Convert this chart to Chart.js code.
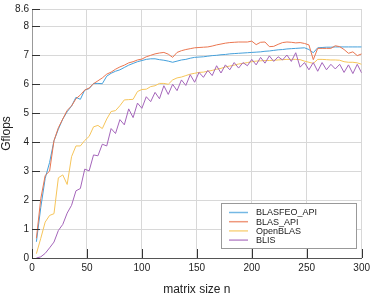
<!DOCTYPE html>
<html>
<head>
<meta charset="utf-8">
<script src="https://cdn.jsdelivr.net/npm/chart.js@4"></script>
<style>
  html, body { margin: 0; padding: 0; background: #fff; }
  canvas { display: block; }
</style>
</head>
<body>
<canvas id="graphique" width="374" height="295"></canvas>
<script>
// --- données ---
const tailles = [4, 8, 12, 16, 20, 24, 28, 32, 36, 40,
  44, 48, 52, 56, 60, 64, 68, 72, 76, 80,
  84, 88, 92, 96, 100, 104, 108, 112, 116, 120,
  124, 128, 132, 136, 140, 144, 148, 152, 156, 160,
  164, 168, 172, 176, 180, 184, 188, 192, 196, 200,
  204, 208, 212, 216, 220, 224, 228, 232, 236, 240,
  244, 248, 252, 256, 260, 264, 268, 272, 276, 280,
  284, 288, 292, 296, 300];

const blasfeoApi = [0.56, 1.75, 2.75, 3.3, 4.05, 4.45, 4.8, 5.05, 5.25, 5.55,
  5.48, 5.8, 5.85, 6.03, 6.03, 6.02, 6.28, 6.38, 6.45, 6.5,
  6.58, 6.66, 6.72, 6.78, 6.82, 6.86, 6.88, 6.88, 6.85, 6.83,
  6.8, 6.76, 6.8, 6.84, 6.86, 6.9, 6.93, 6.94, 6.95, 6.97,
  6.99, 7.0, 7.02, 7.03, 7.05, 7.06, 7.07, 7.08, 7.09, 7.1,
  7.11, 7.12, 7.14, 7.15, 7.17, 7.19, 7.2, 7.22, 7.23, 7.24,
  7.25, 7.26, 7.2, 7.09, 7.26, 7.27, 7.28, 7.28, 7.29, 7.29,
  7.29, 7.29, 7.29, 7.29, 7.29];

const blasApi = [0.68, 2.05, 2.85, 3.0, 4.05, 4.5, 4.8, 5.1, 5.25, 5.5,
  5.63, 5.8, 5.87, 6.02, 6.12, 6.22, 6.35, 6.42, 6.52, 6.6,
  6.66, 6.74, 6.78, 6.84, 6.87, 6.95, 7.0, 7.05, 7.08, 7.1,
  7.04, 6.93, 7.1, 7.16, 7.2, 7.23, 7.26, 7.27, 7.28, 7.29,
  7.32, 7.36, 7.39, 7.42, 7.44, 7.45, 7.46, 7.46, 7.46, 7.49,
  7.37, 7.45, 7.46, 7.3, 7.31, 7.38, 7.44, 7.46, 7.45, 7.43,
  7.44, 7.41, 7.36, 6.85, 7.24, 7.24, 7.24, 7.24, 7.33, 7.3,
  7.2, 7.07, 7.12, 6.99, 7.05];

const openBlas = [0.15, 0.68, 1.24, 1.47, 1.53, 2.77, 2.87, 2.54, 3.5, 3.87,
  3.87, 4.06, 4.2, 4.53, 4.58, 4.47, 4.8, 5.06, 5.09, 5.26,
  5.46, 5.47, 5.48, 5.75, 5.82, 5.83, 5.92, 5.95, 6.03, 6.03,
  6.0, 6.15, 6.22, 6.25, 6.3, 6.35, 6.38, 6.41, 6.42, 6.45,
  6.48, 6.52, 6.55, 6.6, 6.63, 6.66, 6.7, 6.72, 6.75, 6.78,
  6.8, 6.81, 6.82, 6.82, 6.83, 6.84, 6.85, 6.86, 6.86, 6.86,
  6.85, 6.8, 6.76, 6.72, 6.86, 6.86, 6.85, 6.84, 6.84, 6.83,
  6.78, 6.76, 6.76, 6.74, 6.69];

const blis = [0.0, 0.04, 0.16, 0.35, 0.55, 0.95, 1.16, 1.55, 1.82, 2.32,
  2.4, 3.07, 3.01, 3.56, 3.53, 3.93, 3.87, 4.47, 4.3, 4.78,
  4.6, 5.15, 4.85, 5.35, 5.17, 5.57, 5.4, 5.72, 5.5, 5.95,
  5.65, 6.0, 5.78, 6.15, 5.96, 6.33, 6.07, 6.41, 6.24, 6.48,
  6.3, 6.64, 6.39, 6.67, 6.5, 6.75, 6.56, 6.75, 6.64, 6.86,
  6.67, 6.93, 6.73, 6.98, 6.79, 6.95, 6.84, 7.01, 6.79, 7.09,
  6.59, 6.75, 6.5, 6.75, 6.45, 6.75, 6.5, 6.69, 6.53, 6.69,
  6.41, 6.67, 6.37, 6.69, 6.39];

const ticksY = [0, 1, 2, 3, 4, 5, 6, 7, 8, 8.6];
const ticksX = [0, 50, 100, 150, 200, 250, 300];

const police = '"Liberation Sans", Arial, Helvetica, sans-serif';

function serie(valeurs) {
  return tailles.map((n, i) => ({ x: n, y: valeurs[i] }));
}

// petits traits de graduation tournés vers l'intérieur + légende dans le graphique
const decorations = {
  id: 'decorations',
  afterDatasetsDraw(chart) {
    const ctx = chart.ctx;
    const zone = chart.chartArea;
    const sx = chart.scales.x;
    const sy = chart.scales.y;

    ctx.save();
    ctx.strokeStyle = '#333';
    ctx.lineWidth = 1;
    ctx.beginPath();
    ticksY.forEach(v => {
      const y = Math.round(sy.getPixelForValue(v)) + 0.5;
      ctx.moveTo(zone.left, y);
      ctx.lineTo(zone.left + 8, y);
    });
    ticksX.forEach(v => {
      const x = Math.round(sx.getPixelForValue(v)) + 0.5;
      ctx.moveTo(x, zone.bottom);
      ctx.lineTo(x, zone.bottom - 9);
    });
    ctx.stroke();

    // légende
    const bx = 221.5, by = 203.5, bw = 135, bh = 45;
    ctx.fillStyle = '#fff';
    ctx.fillRect(bx, by, bw, bh);
    ctx.strokeStyle = '#999';
    ctx.strokeRect(bx, by, bw, bh);
    ctx.font = '9px ' + police;
    ctx.textBaseline = 'middle';
    chart.data.datasets.forEach((ds, i) => {
      const y = 212.5 + i * 9.2;
      ctx.globalAlpha = 0.75;
      ctx.strokeStyle = ds.borderColor;
      ctx.lineWidth = 1.5;
      ctx.beginPath();
      ctx.moveTo(229, y);
      ctx.lineTo(248, y);
      ctx.stroke();
      ctx.globalAlpha = 1;
      ctx.fillStyle = '#222';
      ctx.fillText(ds.label, 256, y + 0.5);
    });
    ctx.restore();
  }
};

const ctx = document.getElementById('graphique').getContext('2d');
new Chart(ctx, {
  type: 'line',
  data: {
    datasets: [
      { label: 'BLASFEO_API', data: serie(blasfeoApi), borderColor: '#45a0db', order: 4 },
      { label: 'BLAS_API', data: serie(blasApi), borderColor: '#ea7650', order: 3 },
      { label: 'OpenBLAS', data: serie(openBlas), borderColor: '#f6c55a', order: 2 },
      { label: 'BLIS', data: serie(blis), borderColor: '#a465ba', order: 1 }
    ]
  },
  options: {
    responsive: false,
    animation: false,
    devicePixelRatio: 1,
    layout: { padding: { top: 5, right: 9, left: 0, bottom: 0 } },
    elements: {
      line: { borderWidth: 1, tension: 0, fill: false },
      point: { radius: 0, hoverRadius: 0 }
    },
    plugins: {
      legend: { display: false },
      tooltip: { enabled: false }
    },
    scales: {
      x: {
        type: 'linear',
        min: 0,
        max: 300,
        afterBuildTicks: s => { s.ticks = ticksX.map(v => ({ value: v })); },
        afterFit: s => { s.height = 37; },
        ticks: { font: { family: police, size: 10 }, color: '#222', padding: 4, maxRotation: 0 },
        grid: { color: '#d8d8d8', drawTicks: false },
        border: { color: '#555' },
        title: {
          display: true,
          text: 'matrix size n',
          font: { family: police, size: 12 },
          color: '#222',
          padding: { top: 0, bottom: -2 }
        }
      },
      y: {
        min: 0,
        max: 8.6,
        afterBuildTicks: s => { s.ticks = ticksY.map(v => ({ value: v })); },
        afterFit: s => { s.width = 32; },
        ticks: { font: { family: police, size: 10 }, color: '#222', padding: 3 },
        grid: { color: '#d8d8d8', drawTicks: false },
        border: { color: '#999' },
        title: {
          display: true,
          text: 'Gflops',
          font: { family: police, size: 12 },
          color: '#222',
          padding: { top: -1, bottom: 0 }
        }
      }
    }
  },
  plugins: [decorations]
});
</script>
</body>
</html>
